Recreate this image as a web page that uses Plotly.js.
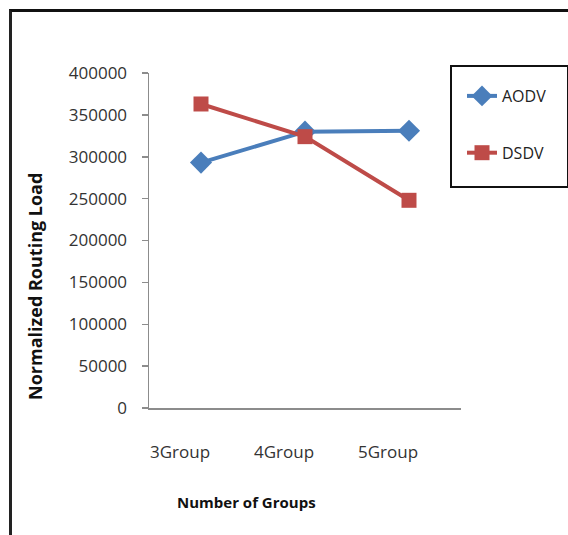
<!DOCTYPE html>
<html>
<head>
<meta charset="utf-8">
<script src="https://cdn.plot.ly/plotly-3.0.1.min.js"></script>
<style>
html,body{margin:0;padding:0;background:#fff;}
#wrap{position:relative;width:568px;height:535px;}
#chart{width:568px;height:535px;}
#frame{position:absolute;left:9px;top:9px;width:570px;height:540px;border-top:3px solid #111;border-left:3px solid #222;pointer-events:none;box-sizing:border-box;}
</style>
</head>
<body>
<div id="wrap"><div id="chart"></div><div id="frame"></div></div>
<script>
const categories = ["3Group", "4Group", "5Group"];
const aodv = [293000, 330000, 331000];
const dsdv = [363000, 324000, 248000];
const yTicks = [0, 50000, 100000, 150000, 200000, 250000, 300000, 350000, 400000];

const font = "Open Sans, Lato, sans-serif";

const traces = [
  {
    x: categories, y: aodv, name: "AODV", type: "scatter", mode: "lines+markers",
    line: {color: "#4A7EBB", width: 4},
    marker: {symbol: "diamond", size: 17, color: "#4A7EBB"},
    legendgroup: "a"
  },
  {
    x: categories, y: dsdv, name: "DSDV", type: "scatter", mode: "lines+markers",
    line: {color: "#BE4B48", width: 4},
    marker: {symbol: "square", size: 15, color: "#BE4B48"},
    legendgroup: "b"
  }
];

const px = v => (v - 149) / 312;
const py = v => (408 - v) / 335;

const layout = {
  width: 568, height: 535,
  margin: {l: 149, r: 107, t: 73, b: 127},
  paper_bgcolor: "#fff", plot_bgcolor: "#fff",
  showlegend: true,
  legend: {
    x: px(462), y: py(79), xanchor: "left", yanchor: "top",
    borderwidth: 0,
    font: {family: font, size: 16, color: "#222"},
    tracegroupgap: 33, traceorder: "grouped",
    bgcolor: "rgba(0,0,0,0)"
  },
  shapes: [
    {type: "rect", xref: "paper", yref: "paper",
     x0: px(451), x1: px(568), y0: py(187), y1: py(66),
     line: {color: "#111", width: 2}, fillcolor: "rgba(0,0,0,0)", layer: "below"}
  ],
  xaxis: {
    type: "category",
    range: [-0.5, 2.5],
    showline: true, linecolor: "#8c8c8c", linewidth: 1.5,
    ticks: "", showgrid: false, zeroline: false,
    tickfont: {family: font, size: 17, color: "#333"},
    ticklabelstandoff: 28, ticklabelshift: -21
  },
  yaxis: {
    range: [0, 400000],
    tickvals: yTicks, ticktext: yTicks.map(String),
    showline: true, linecolor: "#8c8c8c", linewidth: 1.5,
    ticks: "outside", ticklen: 6, tickcolor: "#8c8c8c", tickwidth: 1.5,
    showgrid: false, zeroline: false,
    tickfont: {family: font, size: 17, color: "#333"},
    ticklabelstandoff: 11
  },
  annotations: [
    {text: "<b>Number of Groups</b>", xref: "paper", yref: "paper",
     x: px(246), y: py(502), xanchor: "center", yanchor: "middle",
     showarrow: false, font: {family: font, size: 15, color: "#111"}},
    {text: "<b>Normalized Routing Load</b>", xref: "paper", yref: "paper",
     x: px(35), y: py(287), xanchor: "center", yanchor: "middle",
     textangle: -90, showarrow: false, font: {family: font, size: 18, color: "#111"}}
  ]
};

Plotly.newPlot("chart", traces, layout, {displayModeBar: false, staticPlot: true});
</script>
</body>
</html>
